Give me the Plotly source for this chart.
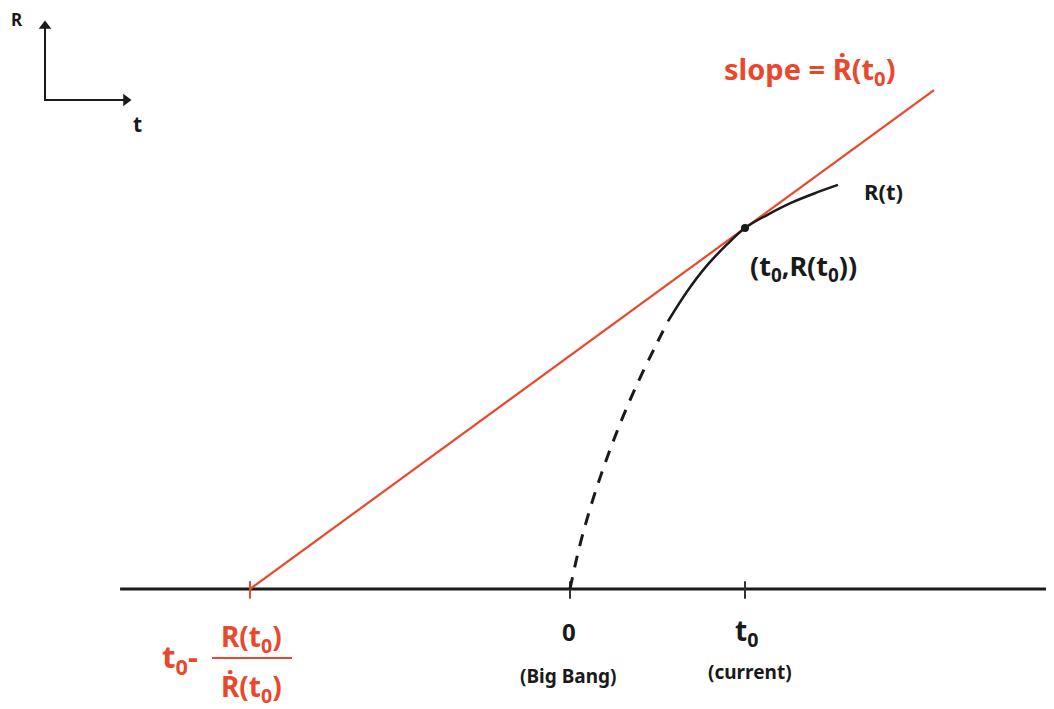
import plotly.graph_objects as go

# ---- data (t in units of t0, R in arbitrary units) ----
t0 = 1.0
R_t0 = 2.063          # R(t0)
Rdot_t0 = 0.7293      # slope of tangent at t0

# extrapolated (dashed) part of R(t), back to the Big Bang
t_dash = [0.0, 0.051, 0.114, 0.189, 0.274, 0.371, 0.480, 0.560]
R_dash = [0.0, 0.229, 0.457, 0.686, 0.914, 1.143, 1.371, 1.530]

# observed (solid) part of R(t)
t_solid = [0.560, 0.669, 0.783, 0.897, 1.000, 1.126, 1.269, 1.411, 1.531]
R_solid = [1.530, 1.700, 1.849, 1.969, 2.063, 2.137, 2.209, 2.266, 2.309]

t_tangent_end = 2.08
baseline_t = [-2.571, 2.80]

RED = "#E8482C"
BLACK = "#1a1a1a"
FONT = "Noto Sans"

# pixel <-> data helpers (175 px per unit, origin at px (570, 589))
def px_t(px):
    return (px - 570) / 175.0

def px_R(py):
    return (589 - py) / 175.0

t_int = t0 - R_t0 / Rdot_t0
tan_t = [t_int, t_tangent_end]
tan_R = [R_t0 + Rdot_t0 * (t - t0) for t in tan_t]
tick_positions = [t_int, 0.0, t0]
tick_colors = [RED, "#333333", "#333333"]

fig = go.Figure()

# baseline (t axis)
fig.add_trace(go.Scatter(x=baseline_t, y=[0, 0], mode="lines",
                         line=dict(color=BLACK, width=3), hoverinfo="skip"))
# ticks
for tp, c in zip(tick_positions, tick_colors):
    fig.add_trace(go.Scatter(x=[tp, tp], y=[-0.055, 0.045], mode="lines",
                             line=dict(color=c, width=2), hoverinfo="skip"))
# tangent line
fig.add_trace(go.Scatter(x=tan_t, y=tan_R, mode="lines",
                         line=dict(color=RED, width=2.2), hoverinfo="skip"))
# R(t) dashed (extrapolated) part
fig.add_trace(go.Scatter(x=t_dash, y=R_dash, mode="lines",
                         line=dict(color=BLACK, width=3, dash="12px,10px", shape="spline"),
                         hoverinfo="skip"))
# R(t) solid part
fig.add_trace(go.Scatter(x=t_solid, y=R_solid, mode="lines",
                         line=dict(color=BLACK, width=2.5, shape="spline"),
                         hoverinfo="skip"))
# point (t0, R(t0))
fig.add_trace(go.Scatter(x=[t0], y=[R_t0], mode="markers",
                         marker=dict(color=BLACK, size=8), hoverinfo="skip"))

# mini axis icon (top-left)
fig.add_trace(go.Scatter(x=[px_t(45), px_t(45), px_t(124)],
                         y=[px_R(27), px_R(100), px_R(100)], mode="lines",
                         line=dict(color=BLACK, width=2), hoverinfo="skip"))
fig.add_trace(go.Scatter(x=[px_t(45)], y=[px_R(26)], mode="markers",
                         marker=dict(symbol="triangle-up", color=BLACK, size=11),
                         hoverinfo="skip"))
fig.add_trace(go.Scatter(x=[px_t(126)], y=[px_R(100)], mode="markers",
                         marker=dict(symbol="triangle-right", color=BLACK, size=11),
                         hoverinfo="skip"))

anns = []

def txt(xp, yp, text, size, color=BLACK):
    anns.append(dict(x=px_t(xp), y=px_R(yp), xref="x", yref="y",
                     text="<b>" + text + "</b>", showarrow=False,
                     xanchor="center", yanchor="middle",
                     font=dict(family=FONT, size=size, color=color)))

txt(17, 19, "R", 17)
txt(137, 124, "t", 21)

txt(810, 70, "slope = Ṙ(t<sub>0</sub>)", 29, RED)
txt(883, 191, "R(t)", 22)
txt(803, 267, "(t<sub>0</sub>,R(t<sub>0</sub>))", 27)
txt(569, 631, "0", 24)
txt(568, 676, "(Big Bang)", 19)
txt(746, 632, "t<sub>0</sub>", 28)
txt(750, 672, "(current)", 19)

# intercept label t0 - R(t0)/Rdot(t0)
txt(180, 658, "t<sub>0</sub>-", 31, RED)
txt(251, 638, "R(t<sub>0</sub>)", 28, RED)
txt(251, 688, "Ṙ(t<sub>0</sub>)", 28, RED)

shapes = [dict(type="line", xref="x", yref="y", x0=px_t(212), x1=px_t(292),
               y0=px_R(658), y1=px_R(658), line=dict(color=RED, width=2))]

# the page body adds an 8px offset, so the figure covers px 8..1054 / 8..709
fig.update_layout(
    width=1046, height=701,
    margin=dict(l=0, r=0, t=0, b=0, pad=0),
    paper_bgcolor="white", plot_bgcolor="white",
    showlegend=False,
    xaxis=dict(range=[px_t(8), px_t(1054)], visible=False, fixedrange=True),
    yaxis=dict(range=[px_R(709), px_R(8)], visible=False, fixedrange=True),
    annotations=anns, shapes=shapes,
)

fig.write_html("out.html")
